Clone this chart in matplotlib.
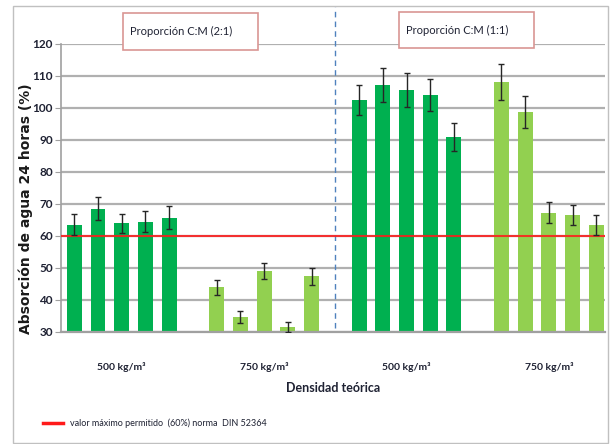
import numpy as np
import matplotlib.pyplot as plt
from matplotlib.patches import Rectangle

# ------------------------------------------------------------
#  Data
# ------------------------------------------------------------
group_labels = ["500 kg/m³", "750 kg/m³", "500 kg/m³", "750 kg/m³"]

means_21_500 = [63.5, 68.4, 63.9, 64.4, 65.6]
err_21_500   = [3.3, 3.6, 3.0, 3.2, 3.6]
means_21_750 = [43.9, 34.7, 49.0, 31.5, 47.3]
err_21_750   = [2.3, 1.9, 2.4, 1.5, 2.6]
means_11_500 = [102.5, 107.2, 105.6, 104.0, 91.0]
err_11_500   = [4.8, 5.3, 5.2, 5.0, 4.4]
means_11_750 = [108.2, 98.6, 67.2, 66.5, 63.3]
err_11_750   = [5.6, 5.0, 3.3, 3.2, 3.1]

limit_value = 60
y_ticks = [30, 40, 50, 60, 70, 80, 90, 100, 110, 120]

DARK  = "#00B050"
LIGHT = "#92D050"
NARROW = ["Lato", "DejaVu Sans"]
TXT = "#1f2233"

groups = [
    (means_21_500, err_21_500, DARK),
    (means_21_750, err_21_750, LIGHT),
    (means_11_500, err_11_500, DARK),
    (means_11_750, err_11_750, LIGHT),
]

# ------------------------------------------------------------
#  Figure
# ------------------------------------------------------------
fig = plt.figure(figsize=(6.1, 4.44), dpi=100)
ax = fig.add_axes([0.1, 0.253, 0.892, 0.648])

slot = 6
for g, (means, errs, color) in enumerate(groups):
    x = g * slot + np.arange(len(means))
    ax.bar(x, means, width=0.63, color=color, zorder=2)
    ax.errorbar(x, means, yerr=errs, fmt="none", ecolor="#262626",
                elinewidth=1, capsize=2.5, capthick=1, zorder=4)

ax.axhline(limit_value, color="#ff1a1a", lw=1.5, alpha=0.85, zorder=3)

ax.set_ylim(30, 120)
ax.set_xlim(-0.56, 22.37)
ax.set_yticks(y_ticks)
ax.set_yticklabels([str(t) for t in y_ticks], family=NARROW,
                   fontweight="bold", fontsize=8.5, color=TXT)
ax.yaxis.grid(True, color="#b0b0b0", lw=1.6, zorder=0)
ax.set_axisbelow(True)
ax.tick_params(axis="y", length=4, color="#a0a0a0", pad=2)

centers = [g * slot + 2 for g in range(len(group_labels))]
ax.set_xticks(centers)
ax.set_xticklabels(group_labels, family=NARROW, fontsize=7.5,
                   fontweight="bold", color=TXT)
ax.tick_params(axis="x", length=0, pad=22)

for s in ["top", "right"]:
    ax.spines[s].set_visible(False)
ax.spines["left"].set_color("#a0a0a0")
ax.spines["bottom"].set_color("#a0a0a0")
ax.spines["left"].set_linewidth(1.2)
ax.spines["bottom"].set_linewidth(1.6)

# divider between proportions
ax.plot([11, 11], [31, 131.5], color="#4f81bd", lw=1, ls=(0, (4, 3)),
        clip_on=False, zorder=1)

ax.set_xlabel("Densidad teórica", family=NARROW, fontsize=9,
              fontweight="bold", color=TXT, labelpad=7)
fig.text(0.043, 0.531, "Absorción de agua 24 horas (%)", rotation=90,
         ha="center", va="center", fontsize=10, fontweight="bold",
         color="#1a1a1a")

# proportion boxes
for (x0, y0, w, h, label) in [(123, 394, 135, 37, "Proporción C:M (2:1)"),
                              (399, 396, 135, 36, "Proporción C:M (1:1)")]:
    fig.patches.append(Rectangle((x0 / 610, y0 / 444), w / 610, h / 444,
                                 transform=fig.transFigure, facecolor="white",
                                 edgecolor="#d99694", lw=1.2, zorder=5))
    fig.text((x0 + 8 + 50) / 610, (y0 + h / 2) / 444, label, ha="center",
             va="center", family=NARROW, fontsize=8, color=TXT, zorder=6)

# legend
fig.lines.append(plt.Line2D([43 / 610, 63 / 610], [21 / 444, 21 / 444],
                            transform=fig.transFigure, color="#ff1a1a", lw=2.5))
fig.text(70 / 610, 21 / 444, "valor máximo permitido  (60%) norma  DIN 52364",
         ha="left", va="center", family=NARROW, fontsize=6.5, color=TXT)

# outer frame
fig.patches.append(Rectangle((13 / 610, 1 / 444), 595 / 610, 437 / 444,
                             transform=fig.transFigure, fill=False,
                             edgecolor="#c0c0c0", lw=1, zorder=0))

fig.savefig("out.png", dpi=100)
